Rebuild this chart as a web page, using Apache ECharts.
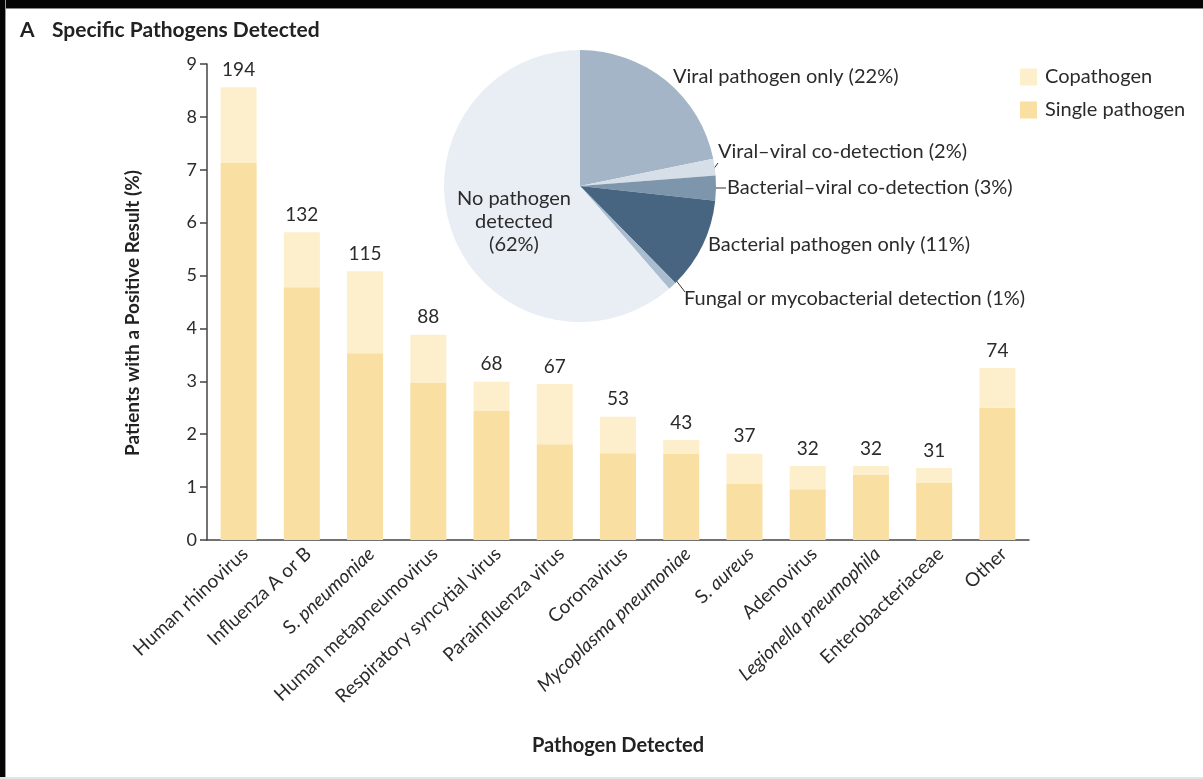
<!DOCTYPE html>
<html>
<head>
<meta charset="utf-8">
<script src="https://cdn.jsdelivr.net/npm/echarts@6/dist/echarts.min.js"></script>
<style>
  html, body { margin: 0; padding: 0; background: #fff; }
  #wrap { position: relative; width: 1203px; height: 779px; overflow: hidden; background: #fff; }
  #chart { position: absolute; left: 0; top: 0; width: 1203px; height: 779px; }
  .bt { position: absolute; left: 0; top: 0; width: 1203px; height: 8px; background: #050505; border-bottom: 1px solid #888; }
  .bl { position: absolute; left: 0; top: 0; width: 5px; height: 779px; background: #050505; border-right: 1px solid #999; }
  .bb { position: absolute; left: 0; bottom: 0; width: 1203px; height: 2px; background: #e4e4e4; }
</style>
</head>
<body>
<div id="wrap">
  <div id="chart"></div>
  <div class="bt"></div>
  <div class="bl"></div>
  <div class="bb"></div>
</div>
<script>
// ---- Data ----
const categories = [
  'Human rhinovirus', 'Influenza A or B', 'S. pneumoniae', 'Human metapneumovirus',
  'Respiratory syncytial virus', 'Parainfluenza virus', 'Coronavirus',
  'Mycoplasma pneumoniae', 'S. aureus', 'Adenovirus', 'Legionella pneumophila',
  'Enterobacteriaceae', 'Other'
];
// Percent of patients (total positive) and single-pathogen part
const totalPct  = [8.56, 5.82, 5.08, 3.88, 2.99, 2.95, 2.33, 1.89, 1.63, 1.40, 1.40, 1.36, 3.25];
const singlePct = [7.13, 4.78, 3.53, 2.97, 2.44, 1.81, 1.64, 1.63, 1.06, 0.96, 1.23, 1.08, 2.50];
const counts    = [194, 132, 115, 88, 68, 67, 53, 43, 37, 32, 32, 31, 74];
const yTicks    = [0, 1, 2, 3, 4, 5, 6, 7, 8, 9];

const pieNames  = ['Viral pathogen only (22%)', 'Viral\u2013viral co-detection (2%)',
                   'Bacterial\u2013viral co-detection (3%)', 'Bacterial pathogen only (11%)',
                   'Fungal or mycobacterial detection (1%)', 'No pathogen\ndetected\n(62%)'];
const pieValues = [22, 2, 3, 11, 1, 62];

// derived
const copathPct = totalPct.map((t, i) => +(t - singlePct[i]).toFixed(2));

// ---- Styles ----
const FONT = 'Lato, "Open Sans", sans-serif';
const TXT = '#2b2b2b';
const pieColors = ['#a4b5c7', '#d6dee7', '#7d96ac', '#476581', '#a9bdcf', '#e9eef4'];

const italicMap = {
  'S. pneumoniae': 'S. {i|pneumoniae}',
  'Mycoplasma pneumoniae': '{i|Mycoplasma pneumoniae}',
  'S. aureus': 'S. {i|aureus}',
  'Legionella pneumophila': '{i|Legionella pneumophila}'
};

// pie geometry (layout only)
const PC = [580, 186], PR = 136;
const pieLabelPos = [
  { x: 673, y: 77 },
  { x: 718, y: 152, line: [[709, 175], [718, 163]] },
  { x: 727, y: 188, line: [[714, 188], [726, 188]] },
  { x: 708, y: 245 },
  { x: 684, y: 299, line: [[675, 279], [685, 292]] },
  { x: 514, y: 222, center: true }
];

const chart = echarts.init(document.getElementById('chart'), null, { renderer: 'canvas' });

const option = {
  backgroundColor: '#fff',
  animation: false,
  textStyle: { fontFamily: FONT, color: TXT },
  title: {
    left: 20, top: 20, padding: 0,
    text: '{a|A}{t|Specific Pathogens Detected}',
    textStyle: {
      rich: {
        a: { fontFamily: FONT, fontSize: 21, fontWeight: 'bold', color: '#222', width: 32 },
        t: { fontFamily: FONT, fontSize: 21, fontWeight: 'bold', color: '#222' }
      }
    }
  },
  legend: {
    data: ['Copathogen', 'Single pathogen'],
    orient: 'vertical',
    left: 1020, top: 67, padding: 0,
    itemWidth: 17, itemHeight: 17, itemGap: 13,
    icon: 'rect',
    textStyle: { fontFamily: FONT, fontSize: 20, color: TXT, padding: [0, 0, 0, 3] }
  },
  grid: { left: 207, right: 174, top: 64, bottom: 239, containLabel: false },
  xAxis: {
    type: 'category',
    data: categories,
    axisLine: { lineStyle: { color: '#444', width: 1.5 } },
    axisTick: { show: false },
    axisLabel: {
      interval: 0, rotate: 43, margin: 4,
      verticalAlign: 'top',
      fontFamily: FONT, fontSize: 19, color: TXT,
      formatter: v => italicMap[v] || v,
      rich: { i: { fontFamily: FONT, fontSize: 19, fontStyle: 'italic', color: TXT } }
    },
    name: 'Pathogen Detected',
    nameLocation: 'middle',
    nameGap: 196,
    nameTextStyle: { fontFamily: FONT, fontSize: 20, fontWeight: 'bold', color: '#222' }
  },
  yAxis: {
    type: 'value',
    min: yTicks[0], max: yTicks[yTicks.length - 1], interval: 1,
    axisLine: { show: true, lineStyle: { color: '#444', width: 1.5 } },
    axisTick: { show: true, length: 7, lineStyle: { color: '#444', width: 1.5 } },
    splitLine: { show: false },
    axisLabel: { fontFamily: FONT, fontSize: 18, color: TXT, margin: 10 },
    name: 'Patients with a Positive Result (%)',
    nameLocation: 'middle',
    nameGap: 65,
    nameTextStyle: { fontFamily: FONT, fontSize: 19, fontWeight: 'bold', color: '#222', padding: [0, 22, 0, 0] }
  },
  series: [
    {
      name: 'Single pathogen',
      type: 'bar', stack: 'p',
      data: singlePct,
      barWidth: 36,
      itemStyle: { color: '#f9dfa1' }
    },
    {
      name: 'Copathogen',
      type: 'bar', stack: 'p',
      data: copathPct,
      barWidth: 36,
      itemStyle: { color: '#fdefcc' },
      label: {
        show: true, position: 'top', distance: 8,
        fontFamily: FONT, fontSize: 19, color: TXT,
        formatter: p => String(counts[p.dataIndex])
      }
    },
    {
      name: 'Pathogen categories',
      type: 'pie',
      center: PC, radius: PR,
      startAngle: 90, clockwise: true,
      z: 5,
      data: pieNames.map((n, i) => ({
        name: n, value: pieValues[i],
        itemStyle: { color: pieColors[i] },
        labelLine: { show: !!pieLabelPos[i].line }
      })),
      label: {
        show: true, position: 'outside',
        fontFamily: FONT, fontSize: 20, color: TXT, lineHeight: 23,
        formatter: p => p.name
      },
      labelLine: { show: true, length: 4, length2: 4, lineStyle: { color: '#333', width: 1 } },
      labelLayout: p => {
        const L = pieLabelPos[p.dataIndex];
        const r = { x: L.x, y: L.y, align: L.center ? 'center' : 'left', verticalAlign: 'middle' };
        if (L.line) r.labelLinePoints = [L.line[0], L.line[0], L.line[1]];
        return r;
      },
      emphasis: { disabled: true }
    }
  ]
};
chart.setOption(option);
</script>
</body>
</html>
